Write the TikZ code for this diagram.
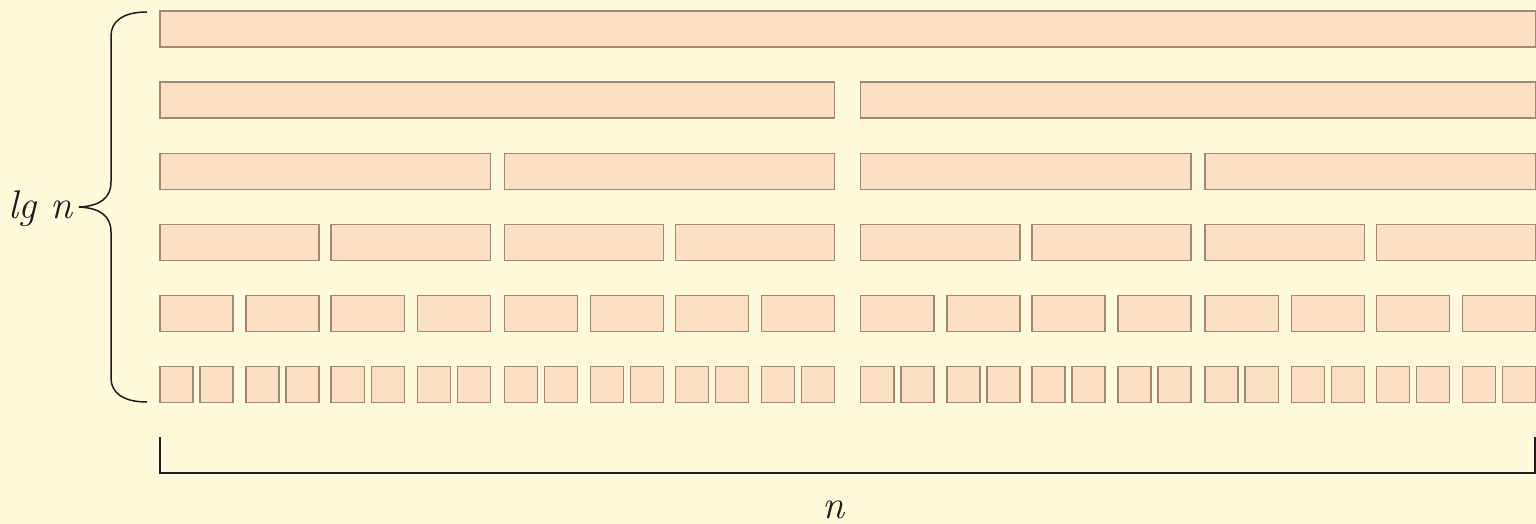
\documentclass[tikz,border=0pt]{standalone}
\definecolor{bg}{RGB}{255,250,220}
\definecolor{cellfill}{RGB}{252,224,196}
\definecolor{celldraw}{RGB}{160,136,115}
\definecolor{ink}{RGB}{30,30,30}
\tikzset{
  cell/.style={fill=cellfill, draw=celldraw, line width=0.7pt},
  brace/.style={draw=ink, line width=0.75pt},
  lbl/.style={font=\rmfamily\fontsize{20}{24}\selectfont\itshape, inner sep=0pt, text=ink},
}
\newcommand\segbox[3]{%
  \pgfmathsetmacro\segtop{11+71.1*#3}%
  \draw[cell] (#1,\segtop) rectangle (#2,\segtop+36);%
  \ifnum#3<5
    \edef\seggap{\ifcase#3 26\or 14\or 12\or 13\or 7\fi}%
    \pgfmathsetmacro\segw{(#2-#1-\seggap)/2}%
    \pgfmathsetmacro\segla{#1+\segw}%
    \pgfmathsetmacro\segrb{#2-\segw}%
    \edef\segnext{\noexpand\segbox{#1}{\segla}{\the\numexpr#3+1\relax}\noexpand\segbox{\segrb}{#2}{\the\numexpr#3+1\relax}}%
    \segnext
  \fi}
\begin{document}
\begin{tikzpicture}[x=0.5pt, y=-0.5pt]
\useasboundingbox (0,0) rectangle (1536,524);
\fill[bg] (0,0) rectangle (1536,524);
\begin{scope}
\clip (0,0) rectangle (1536,524);
\segbox{160}{1535.5}{0}
\end{scope}
% brace
\coordinate (btop) at (147,12);
\coordinate (bbot) at (147,402);
\coordinate (tip) at (79,207);
\draw[brace] (btop) .. controls (122,12) and (111,22) .. (111,36) -- (111,182)
  .. controls (111,198) and (100,206) .. (tip)
  .. controls (100,208) and (111,216) .. (111,232) -- (111,378)
  .. controls (111,392) and (122,402) .. (bbot);
\node[lbl, anchor=base east] (lgn) at (73,218) {lg n};
% bottom bracket
\coordinate (bl) at (160,437);
\coordinate (br) at (1535,437);
\draw[brace, line width=0.9pt] (bl) -- (160,473) -- (1535,473) -- (br);
\node[lbl, anchor=base] (nlabel) at (833,518) {n};
\end{tikzpicture}
\end{document}
